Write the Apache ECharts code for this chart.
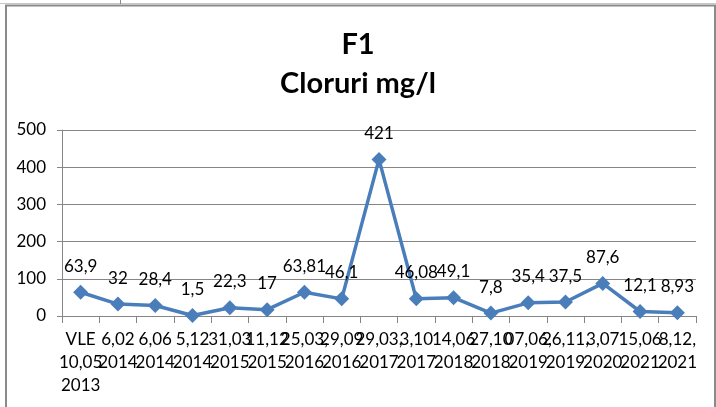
<!DOCTYPE html>
<html>
<head>
<meta charset="utf-8">
<script src="https://cdn.jsdelivr.net/npm/echarts@6/dist/echarts.min.js"></script>
<style>
html,body{margin:0;padding:0;background:#fff;}
#c{width:716px;height:407px;}
</style>
</head>
<body>
<div id="c"></div>
<script>
var categories = ["VLE\n10,05\n2013","6,02\n2014","6,06\n2014","5,12\n2014","31,03\n2015","11,12\n2015","25,03,\n2016","29,09\n2016","29,03,\n2017","3,10\n2017","14,06\n2018","27,10\n2018","07,06,\n2019","26,11,\n2019","3,07\n2020","15,06\n2021","8,12,\n2021"];
var values = [63.9,32,28.4,1.5,22.3,17,63.81,46.1,421,46.08,49.1,7.8,35.4,37.5,87.6,12.1,8.93];
var valueLabels = ["63,9","32","28,4","1,5","22,3","17","63,81","46,1","421","46,08","49,1","7,8","35,4","37,5","87,6","12,1","8,93"];
var yTicks = [0,100,200,300,400,500];

var FONT = 'Lato, "Noto Sans", sans-serif';
var chart = echarts.init(document.getElementById('c'), null, {renderer:'canvas'});
chart.setOption({
  animation:false,
  backgroundColor:'#fff',
  title:{
    text:'F1\nCloruri mg/l',
    left:'center', top:20,
    textStyle:{fontFamily:FONT, fontWeight:'bold', fontSize:29, lineHeight:39, color:'#000'}
  },
  graphic:[
    {type:'line', shape:{x1:0,y1:3.5,x2:716,y2:3.5}, style:{stroke:'#c8c8c8', lineWidth:1}},
    {type:'line', shape:{x1:120.5,y1:0,x2:120.5,y2:4}, style:{stroke:'#888', lineWidth:1}},
    {type:'rect', shape:{x:6,y:5.5,width:709,height:420}, style:{fill:'none', stroke:'#8a8a8a', lineWidth:2}}
  ],
  grid:{left:62, right:20, top:130, bottom:91},
  xAxis:{
    type:'category',
    data:categories,
    boundaryGap:true,
    axisLine:{lineStyle:{color:'#868686', width:1}},
    axisTick:{show:true, interval:0, length:7, lineStyle:{color:'#868686'}},
    axisLabel:{interval:0, fontFamily:FONT, fontSize:17, lineHeight:23, color:'#000', margin:12}
  },
  yAxis:{
    type:'value', min:yTicks[0], max:yTicks[yTicks.length-1], interval:100,
    axisLine:{show:true, lineStyle:{color:'#868686', width:1}},
    axisTick:{show:true, length:5, lineStyle:{color:'#868686'}},
    splitLine:{lineStyle:{color:'#868686', width:1}},
    axisLabel:{fontFamily:FONT, fontSize:17, color:'#000', margin:16}
  },
  series:[{
    type:'line',
    data:values,
    symbol:'diamond',
    symbolSize:15,
    itemStyle:{color:'#4A7EBB'},
    lineStyle:{color:'#4A7EBB', width:3.5},
    label:{
      show:true, position:'top', distance:10,
      fontFamily:FONT, fontSize:17, color:'#000',
      formatter:function(p){return valueLabels[p.dataIndex];}
    }
  }]
});
</script>
</body>
</html>
